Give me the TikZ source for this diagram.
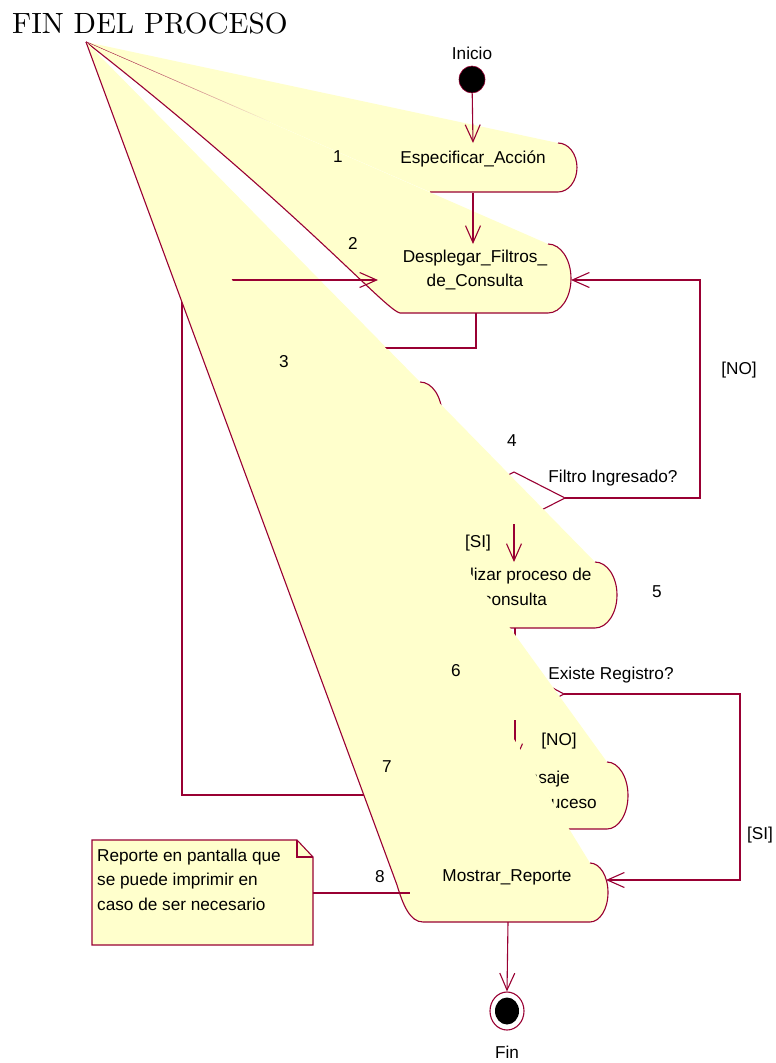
\documentclass[tikz,border=0pt]{standalone}
\usepackage{fontspec}
\setmainfont{Liberation Sans}
\newfontfamily\titlefont{lmroman10-regular}[Extension=.otf]
\usetikzlibrary{arrows.meta,fadings,shapes.geometric}
\definecolor{roseline}{HTML}{990033}
\definecolor{rosefill}{HTML}{FFFFCC}

\begin{document}
\begin{tikzpicture}[x=1pt,y=-1pt,
  edge/.style={draw=roseline, line width=1.1pt},
  flow/.style={edge, -{Straight Barb[length=17pt,width=15pt,line width=1.1pt]}},
  wedge/.style={fill=rosefill},
  lbl/.style={font=\fontsize{17.2}{24.5}\selectfont, inner sep=0pt, align=center},
  notetext/.style={font=\fontsize{17.2}{24.5}\selectfont, inner sep=0pt, align=left}
]
\useasboundingbox[fill=white] (0,0) rectangle (776,1063);

% common point of every activity outline
\coordinate (apex) at (86,42);

% title
\node[inner sep=0pt, anchor=base west, font=\titlefont\fontsize{29.3}{30}\selectfont] (title) at (12,33) {FIN DEL PROCESO};

% start state
\node[ellipse, fill=black, draw=roseline, line width=0.6pt, minimum width=26pt, minimum height=27pt, inner sep=0pt] (start) at (472,79.5) {};
\node[lbl] (startlbl) at (472,53) {Inicio};

% activity 1: Especificar_Accion
\coordinate (a1tr) at (558,143);
\coordinate (a1bl) at (430,192);
\fill[wedge] (apex) -- (a1tr) arc[start angle=-90,end angle=90,x radius=19,y radius=24.5] -- (a1bl) -- cycle;
\draw[edge] (a1tr) arc[start angle=-90,end angle=90,x radius=19,y radius=24.5] -- (a1bl);
\draw[roseline, line width=1.1pt, path fading=east] (apex) -- (270,122);
\node[lbl] (a1) at (473,159) {Especificar\_Acción};
\coordinate (a1top) at (473,143);
\coordinate (a1bot) at (473,193);
\draw[flow] (start) -- (a1top);

% activity 2: Desplegar_Filtros_de_Consulta
\coordinate (a2tr) at (548,244);
\coordinate (a2bl) at (400,313);
\fill[wedge] (apex) -- (a2tr) arc[start angle=-90,end angle=90,x radius=23,y radius=34.5] -- (a2bl) .. controls (385,310) and (300,210) .. (apex) -- cycle;
\draw[edge] (a2tr) arc[start angle=-90,end angle=90,x radius=23,y radius=34.5] -- (a2bl) .. controls (385,310) and (300,210) .. (apex);
\node[lbl] (a2) at (475,270) {Desplegar\_Filtros\_\\de\_Consulta};
\coordinate (a2top) at (473,244);
\coordinate (a2bot) at (476,313);
\coordinate (a2left) at (378,280);
\coordinate (a2right) at (571,280);
\draw[flow] (a1bot) -- (a2top);

% activity 3
\coordinate (a3tr) at (420,382);
\fill[wedge] (apex) -- (a3tr) arc[start angle=-90,end angle=90,x radius=22,y radius=33] -- (300,448) -- cycle;
\draw[edge] (a3tr) arc[start angle=-90,end angle=90,x radius=22,y radius=33];
\coordinate (a3top) at (330,382);
\draw[flow] (a2bot) -- (476,348) -- (330,348) -- (a3top);

% decision 4: Filtro Ingresado?
\coordinate (d4t) at (514,472);
\coordinate (d4r) at (565,498);
\coordinate (d4b) at (514,524);
\coordinate (d4l) at (463,498);
\draw[edge] (d4l) -- (d4t) -- (d4r) -- (d4b) -- cycle;

% activity 5: Realizar proceso de consulta
\coordinate (a5tr) at (595,562);
\coordinate (a5top) at (514,562);
\coordinate (a5bot) at (515,628);
\fill[wedge] (apex) -- (a5tr) arc[start angle=-90,end angle=90,x radius=22,y radius=33] -- (440,628) -- cycle;
\draw[edge] (a5tr) arc[start angle=-90,end angle=90,x radius=22,y radius=33] -- (440,628);
\node[lbl] (a5) at (515,587) {Realizar proceso de\\consulta};
\draw[flow] (d4b) -- (a5top);

% decision 6: Existe Registro?
\coordinate (d6t) at (515,668);
\coordinate (d6r) at (564,694);
\coordinate (d6b) at (515,720);
\coordinate (d6l) at (466,694);
\draw[edge] (d6l) -- (d6t) -- (d6r) -- (d6b) -- cycle;
\draw[flow] (a5bot) -- (d6t);

% activity 7
\coordinate (a7tr) at (607,762);
\coordinate (a7top) at (515,762);
\fill[wedge] (apex) -- (a7tr) arc[start angle=-90,end angle=90,x radius=21,y radius=33.5] -- (450,829) -- cycle;
\draw[edge] (a7tr) arc[start angle=-90,end angle=90,x radius=21,y radius=33.5] -- (450,829);
\node[lbl, anchor=base east] (a7l1) at (570,783) {nsaje};
\node[lbl, anchor=base east] (a7l2) at (597,808) {Suceso};
\draw[flow] (d6b) -- (a7top);
\draw[flow] (460,795) -- (182,795) -- (182,280) -- (a2left);

% activity 8: Mostrar_Reporte
\coordinate (a8tr) at (590,863);
\coordinate (a8bl) at (423,922);
\coordinate (a8right) at (606,880);
\coordinate (a8bot) at (508,922);
\coordinate (a8left) at (410,893);
\fill[wedge] (apex) -- (a8tr) arc[start angle=-90,end angle=90,x radius=18,y radius=29.5] -- (a8bl) .. controls (410,922) and (403,905) .. (397,885) -- cycle;
\draw[edge] (a8tr) arc[start angle=-90,end angle=90,x radius=18,y radius=29.5] -- (a8bl) .. controls (410,922) and (403,905) .. (397,885) -- (apex);
\node[lbl] (a8) at (507,877) {Mostrar\_Reporte};

% remaining transitions
\draw[flow] (d4r) -- (700,498) -- (700,280) -- (a2right);
\draw[flow] (d6r) -- (740,694) -- (740,880) -- (a8right);

% final state
\node[ellipse, draw=roseline, fill=white, line width=1.1pt, minimum width=34pt, minimum height=38pt, inner sep=0pt] (final) at (507,1011) {};
\fill[black] (final.center) ellipse[x radius=12,y radius=13.5];
\node[lbl] (finlbl) at (507,1052) {Fin};
\draw[flow] (a8bot) -- (final.north);

% note
\coordinate (nnw) at (92,840);
\draw[edge, fill=rosefill] (nnw) -- (297,840) -- (313,857) -- (313,945) -- (92,945) -- cycle;
\draw[edge] (297,840) -- (297,857) -- (313,857);
\node[notetext, anchor=north west] (note) at (97,848.5) {Reporte en pantalla que\\se puede imprimir en\\caso de ser necesario};
\coordinate (noteright) at (313,893);
\draw[edge] (noteright) -- (a8left);

% step numbers
\node[lbl] (n1) at (338,157) {1};
\node[lbl] (n2) at (353,243) {2};
\node[lbl] (n3) at (284,362) {3};
\node[lbl] (n4) at (512,441) {4};
\node[lbl] (n5) at (657,592) {5};
\node[lbl] (n6) at (456,671) {6};
\node[lbl] (n7) at (387,767) {7};
\node[lbl] (n8) at (380,877) {8};

% decision and guard labels
\node[lbl] (d4lbl) at (613,478) {Filtro Ingresado?};
\node[lbl] (d6lbl) at (611,675) {Existe Registro?};
\node[lbl] (g1) at (739,370) {[NO]};
\node[lbl] (g2) at (478,543) {[SI]};
\node[lbl] (g3) at (559,741) {[NO]};
\node[lbl] (g4) at (760,835) {[SI]};
\end{tikzpicture}
\end{document}
